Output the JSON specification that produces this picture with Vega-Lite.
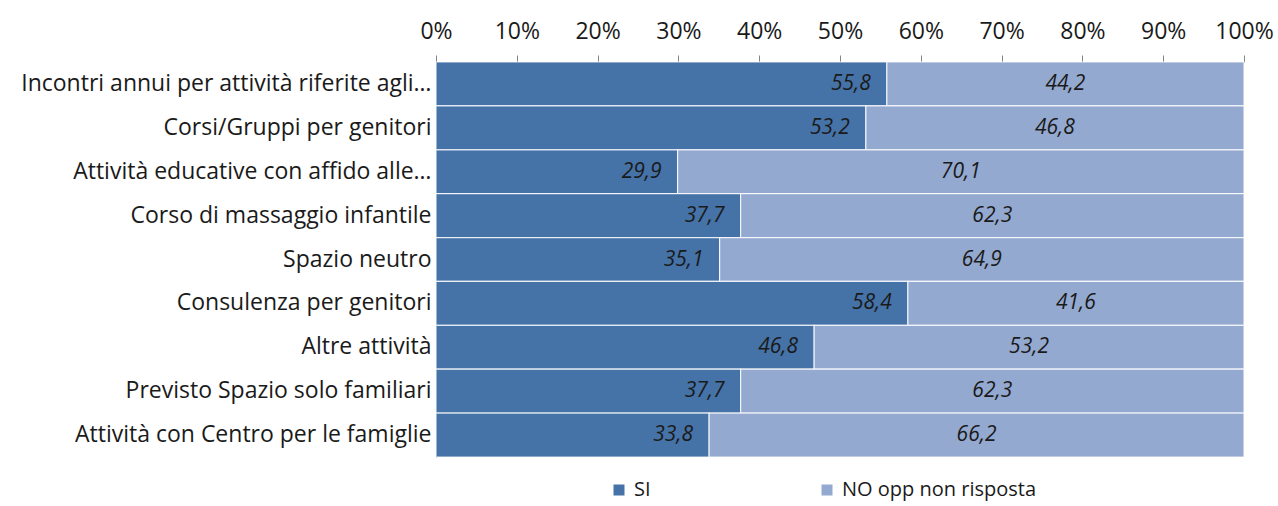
{
  "$schema": "https://vega.github.io/schema/vega-lite/v6.json",
  "width": 808,
  "height": 395,
  "autosize": {"type": "none"},
  "padding": {"left": 436, "top": 62, "right": 34, "bottom": 49},
  "background": "white",
  "config": {
    "locale": {"number": {"decimal": ",", "thousands": ".", "grouping": [3], "currency": ["", " €"]}},
    "view": {"stroke": null},
    "font": "Open Sans"
  },
  "data": {
    "values": [
      {"cat": "Incontri annui per attività riferite agli…", "serie": "SI", "ord": 1, "v": 55.8},
      {"cat": "Incontri annui per attività riferite agli…", "serie": "NO opp non risposta", "ord": 2, "v": 44.2},
      {"cat": "Corsi/Gruppi per genitori", "serie": "SI", "ord": 1, "v": 53.2},
      {"cat": "Corsi/Gruppi per genitori", "serie": "NO opp non risposta", "ord": 2, "v": 46.8},
      {"cat": "Attività educative con affido alle…", "serie": "SI", "ord": 1, "v": 29.9},
      {"cat": "Attività educative con affido alle…", "serie": "NO opp non risposta", "ord": 2, "v": 70.1},
      {"cat": "Corso di massaggio infantile", "serie": "SI", "ord": 1, "v": 37.7},
      {"cat": "Corso di massaggio infantile", "serie": "NO opp non risposta", "ord": 2, "v": 62.3},
      {"cat": "Spazio neutro", "serie": "SI", "ord": 1, "v": 35.1},
      {"cat": "Spazio neutro", "serie": "NO opp non risposta", "ord": 2, "v": 64.9},
      {"cat": "Consulenza per genitori", "serie": "SI", "ord": 1, "v": 58.4},
      {"cat": "Consulenza per genitori", "serie": "NO opp non risposta", "ord": 2, "v": 41.6},
      {"cat": "Altre attività", "serie": "SI", "ord": 1, "v": 46.8},
      {"cat": "Altre attività", "serie": "NO opp non risposta", "ord": 2, "v": 53.2},
      {"cat": "Previsto Spazio solo familiari", "serie": "SI", "ord": 1, "v": 37.7},
      {"cat": "Previsto Spazio solo familiari", "serie": "NO opp non risposta", "ord": 2, "v": 62.3},
      {"cat": "Attività con Centro per le famiglie", "serie": "SI", "ord": 1, "v": 33.8},
      {"cat": "Attività con Centro per le famiglie", "serie": "NO opp non risposta", "ord": 2, "v": 66.2}
    ]
  },
  "encoding": {
    "y": {
      "field": "cat",
      "type": "nominal",
      "sort": null,
      "title": null,
      "scale": {"paddingInner": 0, "paddingOuter": 0},
      "axis": {
        "ticks": false,
        "domainColor": "#868686",
        "labelFontSize": 23,
        "labelColor": "#1a1a1a",
        "labelPadding": 5,
        "labelLimit": 440
      }
    }
  },
  "layer": [
    {
      "mark": {"type": "bar", "stroke": "#ffffff", "strokeWidth": 1.2, "strokeOpacity": 0.8},
      "encoding": {
        "x": {
          "field": "v",
          "type": "quantitative",
          "stack": "zero",
          "scale": {"domain": [0, 100], "nice": false},
          "title": null,
          "axis": {
            "orient": "top",
            "values": [0, 10, 20, 30, 40, 50, 60, 70, 80, 90, 100],
            "labelExpr": "datum.value + '%'",
            "grid": false,
            "tickSize": 7,
            "tickColor": "#868686",
            "domainColor": "#868686",
            "labelFontSize": 23,
            "labelColor": "#1a1a1a",
            "labelPadding": 12,
            "labelFlush": false
          }
        },
        "color": {
          "field": "serie",
          "type": "nominal",
          "sort": ["SI", "NO opp non risposta"],
          "scale": {"domain": ["SI", "NO opp non risposta"], "range": ["#4572A7", "#94A9D0"]},
          "legend": {
            "title": null,
            "orient": "none",
            "legendX": 173,
            "legendY": 418,
            "direction": "horizontal",
            "columns": 2,
            "columnPadding": 166,
            "symbolType": "square",
            "symbolSize": 121,
            "symbolStrokeWidth": 0,
            "labelFontSize": 20,
            "labelColor": "#1a1a1a",
            "labelOffset": 5,
            "labelLimit": 400
          }
        },
        "order": {"field": "ord"}
      }
    },
    {
      "mark": {"type": "text", "align": "right", "dx": -16, "fontSize": 21, "fontStyle": "italic", "color": "#1a1a1a"},
      "encoding": {
        "x": {"field": "v", "type": "quantitative", "stack": "zero"},
        "detail": {"field": "serie"},
        "order": {"field": "ord"},
        "text": {"field": "v", "type": "quantitative", "format": ".1f"},
        "opacity": {"condition": {"test": "datum.serie === 'SI'", "value": 1}, "value": 0}
      }
    },
    {
      "mark": {"type": "text", "align": "center", "fontSize": 21, "fontStyle": "italic", "color": "#1a1a1a"},
      "encoding": {
        "x": {"field": "v", "type": "quantitative", "stack": "zero", "bandPosition": 0.5},
        "detail": {"field": "serie"},
        "order": {"field": "ord"},
        "text": {"field": "v", "type": "quantitative", "format": ".1f"},
        "opacity": {"condition": {"test": "datum.serie === 'SI'", "value": 0}, "value": 1}
      }
    }
  ]
}
